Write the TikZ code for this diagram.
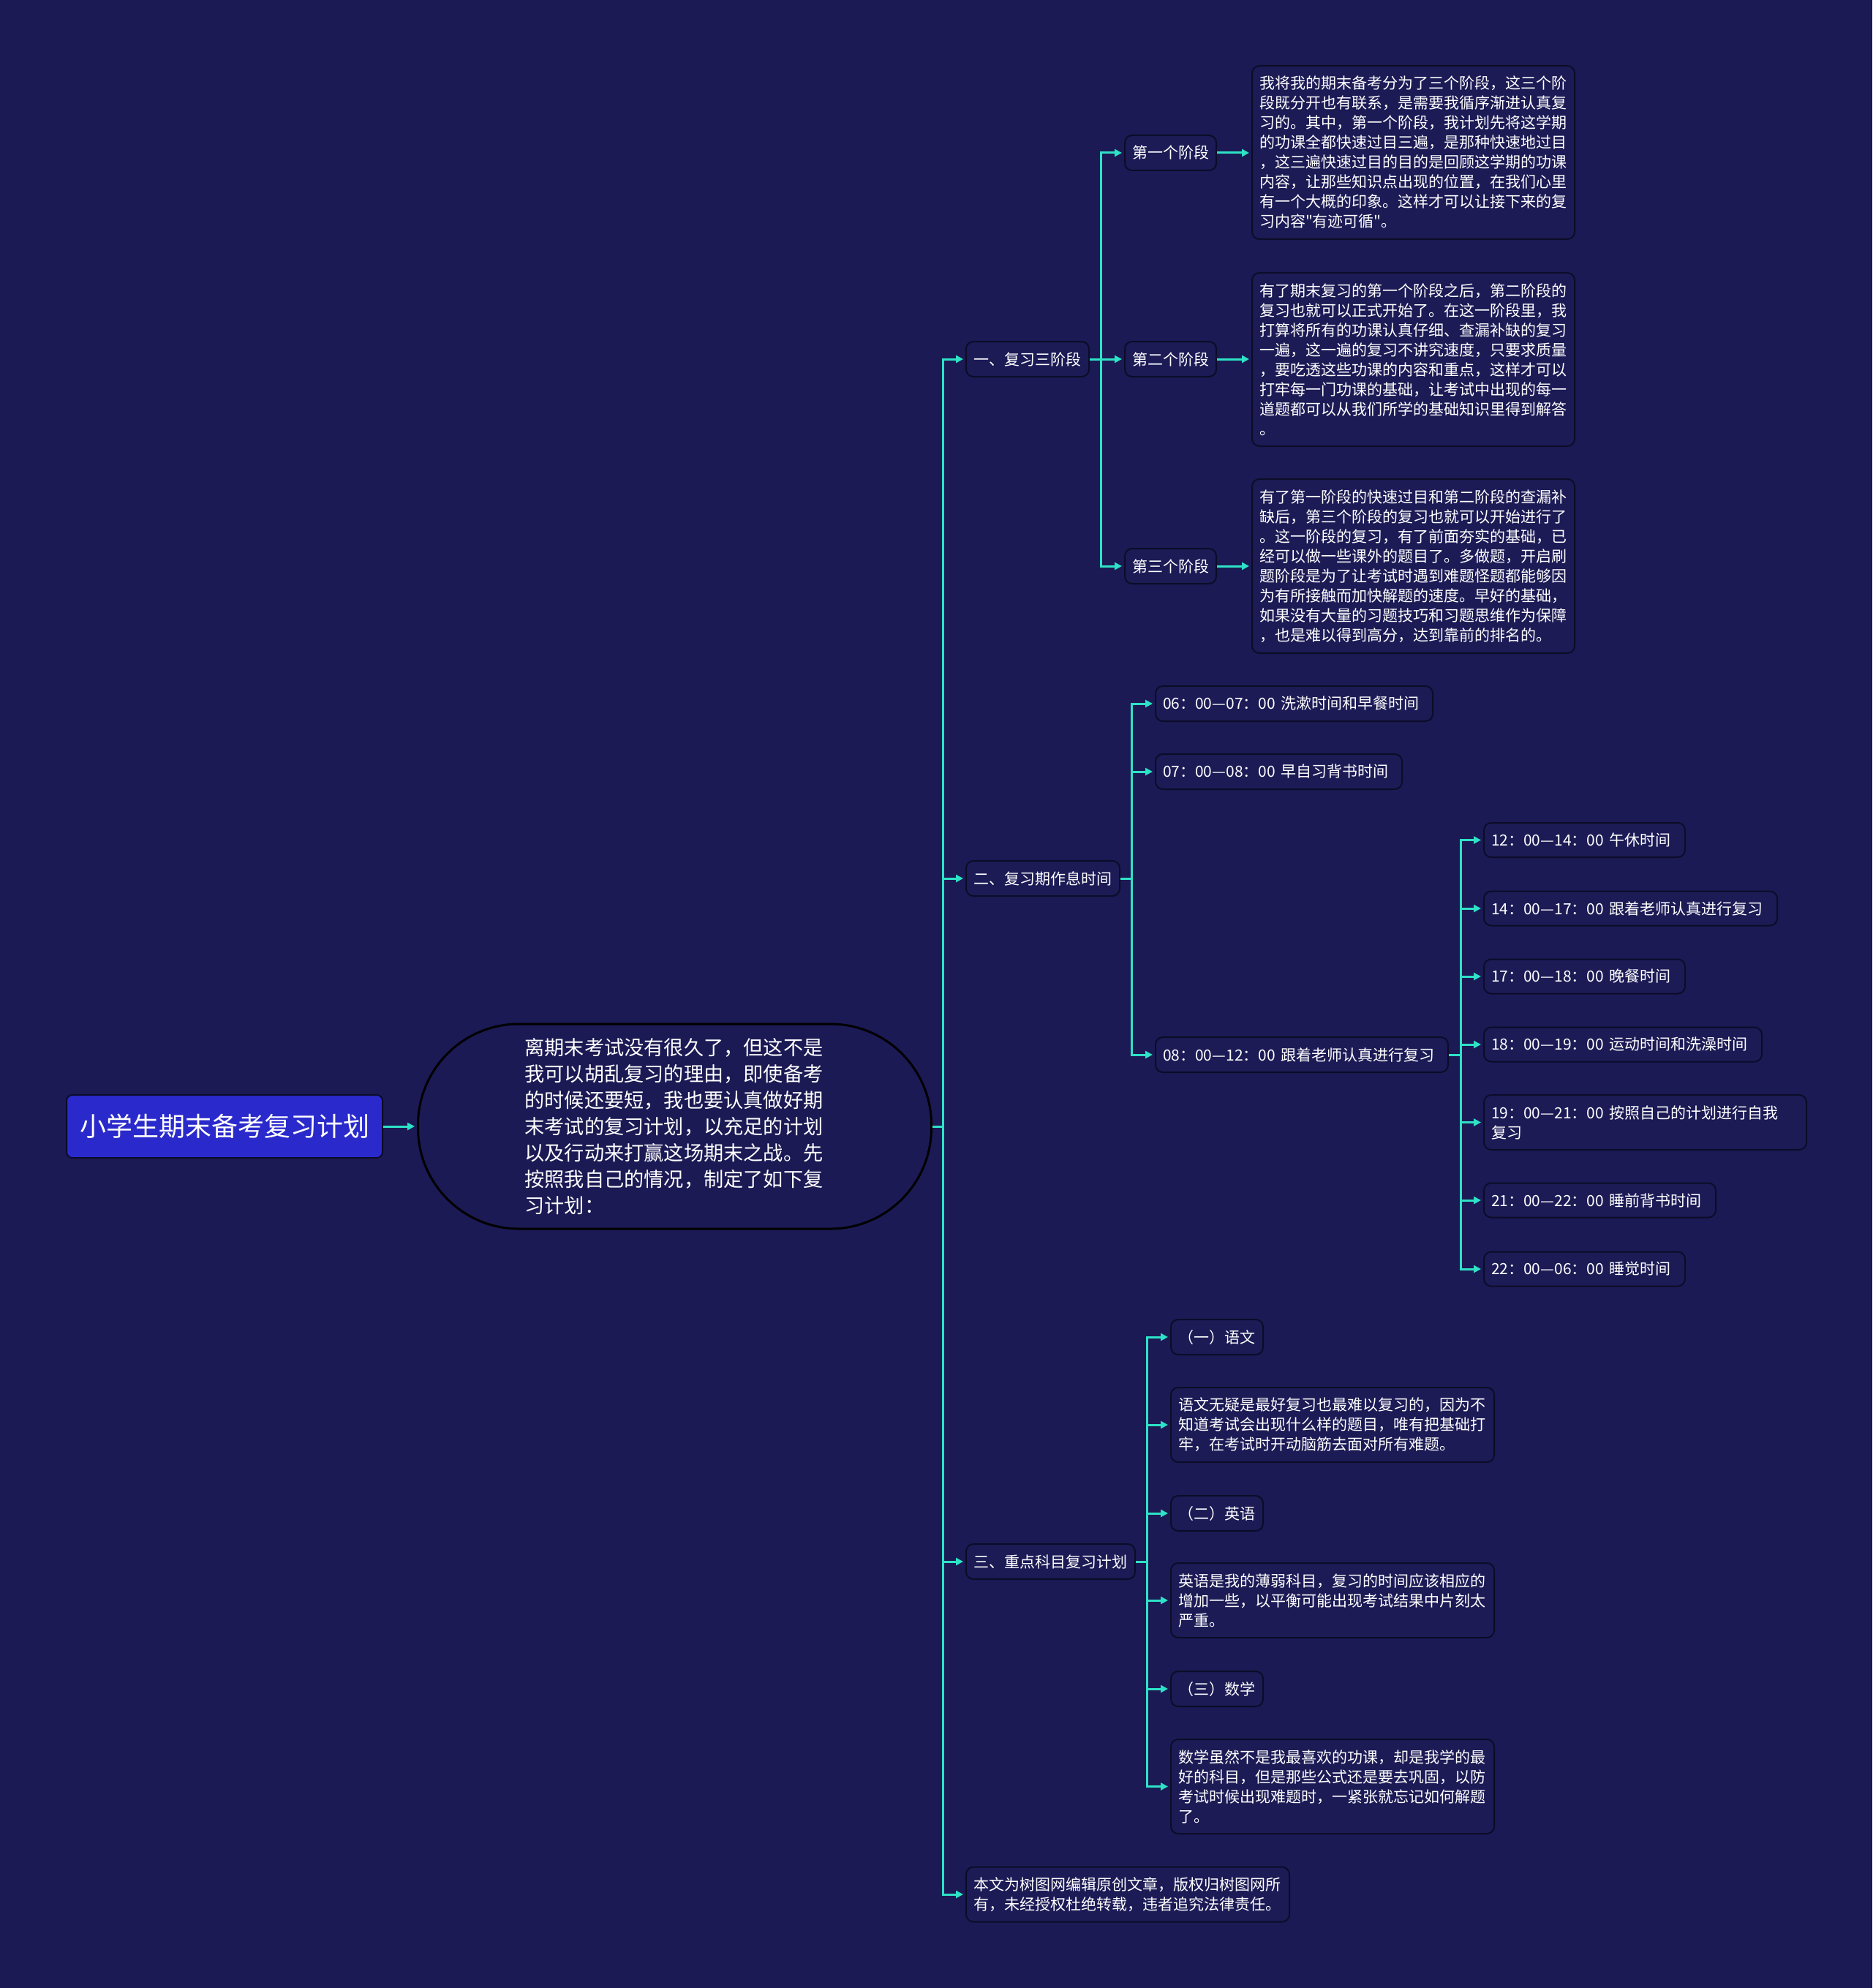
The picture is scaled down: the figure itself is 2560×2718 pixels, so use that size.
\documentclass[tikz,border=0pt]{standalone}
\usepackage{fontspec}
\newfontfamily\cjk{Noto Sans CJK SC}
\usetikzlibrary{arrows.meta}
\definecolor{bg}{RGB}{27,26,84}
\definecolor{nodefill}{RGB}{28,27,86}
\definecolor{nodeborder}{RGB}{12,12,40}
\definecolor{linkc}{RGB}{46,226,198}
\definecolor{rootblue}{RGB}{42,42,204}
\tikzset{
  box/.style={draw=nodeborder, line width=1pt, fill=nodefill, rounded corners=5pt,
    text=white, font=\cjk\fontsize{10.5}{13.5}\selectfont, align=left,
    inner xsep=5pt, inner ysep=0pt, anchor=west},
  rootbox/.style={draw=nodeborder, line width=1pt, fill=rootblue, rounded corners=4pt,
    text=white, font=\cjk\fontsize{18}{22}\selectfont, minimum width=216pt,
    minimum height=43pt, inner sep=0pt, anchor=west},
  introbox/.style={draw=black, line width=1.5pt, fill=bg, rounded corners=69pt,
    text=white, font=\cjk\fontsize{13.6}{18}\selectfont, align=left, text width=205pt,
    minimum width=351pt, minimum height=140pt, inner sep=0pt, anchor=west},
  link/.style={draw=linkc, line width=1.5pt},
  arr/.style={link, -{Triangle[length=5pt,width=5pt]}, shorten >=1.5pt}
}
\begin{document}
\begin{tikzpicture}[x=0.5pt,y=-0.5pt]
\fill[bg] (0,0) rectangle (2560,2718);
\useasboundingbox (0,0) rectangle (2560,2718);

% root and intro
\node[rootbox] (root) at (90,1540) {小学生期末备考复习计划};
\node[introbox] (intro) at (570,1540) {离期末考试没有很久了，但这不是\\我可以胡乱复习的理由，即使备考\\的时候还要短，我也要认真做好期\\末考试的复习计划，以充足的计划\\以及行动来打赢这场期末之战。先\\按照我自己的情况，制定了如下复\\习计划：};

% level 1
\node[box, text width=74pt, minimum height=24pt] (la) at (1320,491) {一、复习三阶段};
\node[box, text width=95pt, minimum height=24pt] (lb) at (1320,1201) {二、复习期作息时间};
\node[box, text width=105.5pt, minimum height=24pt] (lc) at (1320,2135) {三、重点科目复习计划};
\node[box, text width=211pt, minimum height=37.5pt] (ld) at (1320,2590) {本文为树图网编辑原创文章，版权归树图网所\\有，未经授权杜绝转载，违者追究法律责任。};

% branch 1
\node[box, text width=52.5pt, minimum height=24pt] (s1) at (1537,209) {第一个阶段};
\node[box, text width=52.5pt, minimum height=24pt] (s2) at (1537,491) {第二个阶段};
\node[box, text width=52.5pt, minimum height=24pt] (s3) at (1537,774) {第三个阶段};
\node[box, text width=210.5pt, minimum height=118.5pt] (t1) at (1711,208.5) {我将我的期末备考分为了三个阶段，这三个阶\\段既分开也有联系，是需要我循序渐进认真复\\习的。其中，第一个阶段，我计划先将这学期\\的功课全都快速过目三遍，是那种快速地过目\\，这三遍快速过目的目的是回顾这学期的功课\\内容，让那些知识点出现的位置，在我们心里\\有一个大概的印象。这样才可以让接下来的复\\习内容"有迹可循"。};
\node[box, text width=210.5pt, minimum height=118.5pt] (t2) at (1711,491.5) {有了期末复习的第一个阶段之后，第二阶段的\\复习也就可以正式开始了。在这一阶段里，我\\打算将所有的功课认真仔细、查漏补缺的复习\\一遍，这一遍的复习不讲究速度，只要求质量\\，要吃透这些功课的内容和重点，这样才可以\\打牢每一门功课的基础，让考试中出现的每一\\道题都可以从我们所学的基础知识里得到解答\\。};
\node[box, text width=210.5pt, minimum height=119pt] (t3) at (1711,774) {有了第一阶段的快速过目和第二阶段的查漏补\\缺后，第三个阶段的复习也就可以开始进行了\\。这一阶段的复习，有了前面夯实的基础，已\\经可以做一些课外的题目了。多做题，开启刷\\题阶段是为了让考试时遇到难题怪题都能够因\\为有所接触而加快解题的速度。早好的基础，\\如果没有大量的习题技巧和习题思维作为保障\\，也是难以得到高分，达到靠前的排名的。};

% branch 2
\node[box, text width=179.5pt, minimum height=24pt] (b06) at (1579,962) {06：00—07：00~洗漱时间和早餐时间};
\node[box, text width=158.5pt, minimum height=24pt] (b07) at (1579,1055) {07：00—08：00~早自习背书时间};
\node[box, text width=190pt, minimum height=24pt] (b08) at (1579,1442) {08：00—12：00~跟着老师认真进行复习};
\node[box, text width=127.5pt, minimum height=23.5pt] (c12) at (2028,1148.5) {12：00—14：00~午休时间};
\node[box, text width=190.5pt, minimum height=23.5pt] (c14) at (2028,1242) {14：00—17：00~跟着老师认真进行复习};
\node[box, text width=127.5pt, minimum height=23.5pt] (c17) at (2028,1335) {17：00—18：00~晚餐时间};
\node[box, text width=180pt, minimum height=23.5pt] (c18) at (2028,1428) {18：00—19：00~运动时间和洗澡时间};
\node[box, text width=210.5pt, minimum height=37.5pt] (c19) at (2028,1534.5) {19：00—21：00~按照自己的计划进行自我\\复习};
\node[box, text width=148.5pt, minimum height=23.5pt] (c21) at (2028,1641) {21：00—22：00~睡前背书时间};
\node[box, text width=127.5pt, minimum height=23.5pt] (c22) at (2028,1735) {22：00—06：00~睡觉时间};

% branch 3
\node[box, text width=53pt, minimum height=24pt] (d1) at (1600,1828) {（一）语文};
\node[box, text width=211pt, minimum height=51pt] (d1t) at (1600,1948) {语文无疑是最好复习也最难以复习的，因为不\\知道考试会出现什么样的题目，唯有把基础打\\牢，在考试时开动脑筋去面对所有难题。};
\node[box, text width=53pt, minimum height=24pt] (d2) at (1600,2069) {（二）英语};
\node[box, text width=211pt, minimum height=51pt] (d2t) at (1600,2188) {英语是我的薄弱科目，复习的时间应该相应的\\增加一些，以平衡可能出现考试结果中片刻太\\严重。};
\node[box, text width=53pt, minimum height=24pt] (d3) at (1600,2309) {（三）数学};
\node[box, text width=211pt, minimum height=64.5pt] (d3t) at (1600,2442.5) {数学虽然不是我最喜欢的功课，却是我学的最\\好的科目，但是那些公式还是要去巩固，以防\\考试时候出现难题时，一紧张就忘记如何解题\\了。};

% junction coordinates
\coordinate (trunk) at (1289,1540);
\coordinate (ja) at (1505,491);
\coordinate (jb) at (1547,1201);
\coordinate (jc) at (1997,1442);
\coordinate (jd) at (1568,2135);

% connectors
\draw[arr] (root) -- (intro);
\draw[link] (intro.east) -- (trunk);
\foreach \n in {la,lb,lc,ld}{ \draw[arr] (trunk) |- (\n); }

\draw[link] (la.east) -- (ja);
\foreach \n in {s1,s2,s3}{ \draw[arr] (ja) |- (\n); }
\draw[arr] (s1) -- (t1.west |- s1);
\draw[arr] (s2) -- (t2.west |- s2);
\draw[arr] (s3) -- (t3.west |- s3);

\draw[link] (lb.east) -- (jb);
\foreach \n in {b06,b07,b08}{ \draw[arr] (jb) |- (\n); }
\draw[link] (b08.east) -- (jc);
\foreach \n in {c12,c14,c17,c18,c19,c21,c22}{ \draw[arr] (jc) |- (\n); }

\draw[link] (lc.east) -- (jd);
\foreach \n in {d1,d1t,d2,d2t,d3,d3t}{ \draw[arr] (jd) |- (\n); }
\end{tikzpicture}
\end{document}
